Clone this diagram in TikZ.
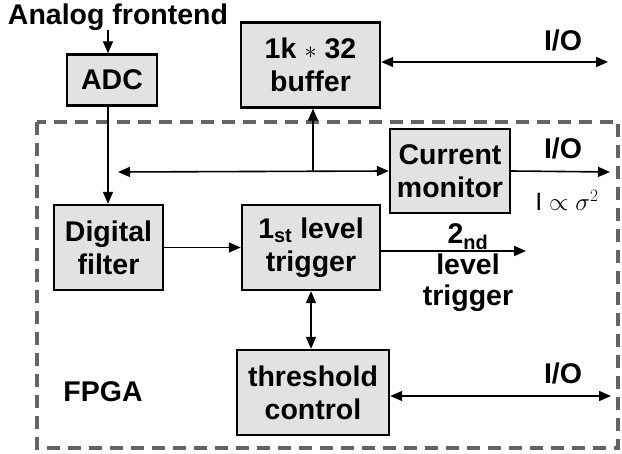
\documentclass[tikz,border=0pt]{standalone}
\usepackage{fontspec}
\setmainfont{Liberation Sans}
\usetikzlibrary{arrows.meta}
\definecolor{boxfill}{RGB}{226,226,226}
\definecolor{dashgray}{RGB}{100,100,100}
\begin{document}
\begin{tikzpicture}[x=1pt,y=-1pt,
  every node/.style={font=\fontsize{28.5}{33}\selectfont\bfseries},
  blk/.style={draw=black,line width=2.4pt,fill=boxfill,align=center,inner sep=0pt},
  conn/.style={line width=1.6pt,-{Triangle[length=12pt,width=10pt]}},
  dconn/.style={line width=1.6pt,{Triangle[length=12pt,width=10pt]}-{Triangle[length=12pt,width=10pt]}},
  lbl/.style={align=center,inner sep=0pt}]
\useasboundingbox (0,0) rectangle (622,454);
% FPGA dashed frame
\draw[dashgray,line width=4pt,dash pattern=on 13pt off 8pt] (36.5,122) rectangle (618,448);
% blocks
\node[blk,minimum width=90pt,minimum height=51pt] (adc) at (112,80) {ADC};
\node[blk,minimum width=139pt,minimum height=85pt] (buf) at (310.5,65) {1k {\mdseries$\ast$} 32\\buffer};
\node[blk,minimum width=120pt,minimum height=84pt] (cm) at (450,171) {Current\\monitor};
\node[blk,minimum width=109pt,minimum height=85pt] (df) at (108.5,247.5) {Digital\\filter};
\node[blk,minimum width=138pt,minimum height=85pt] (trig) at (311,247.5) {1\textsubscript{st} level\\trigger};
\node[blk,minimum width=152pt,minimum height=85pt] (thr) at (313,392.5) {threshold\\control};
% labels
\node[lbl] (afe) at (118,17) {Analog frontend};
\node[lbl] (fpga) at (103,392) {FPGA};
\node[lbl] (io1) at (563,40) {I/O};
\node[lbl] (io2) at (563,148) {I/O};
\node[lbl] (io3) at (563,373) {I/O};
\node[lbl,font=\fontsize{25}{30}\selectfont\mdseries] (prop) at (567,200) {I $\propto\sigma^2$};
\node[lbl,font=\fontsize{28.5}{31}\selectfont\bfseries] (sec) at (468,268) {2\textsubscript{nd}\\level\\trigger};
% coordinates
\coordinate (afeb) at (108,30);
\coordinate (busL) at (118,172);
\coordinate (busJ) at (313,172);
\coordinate (bufout) at (608,62);
\coordinate (cmout) at (610,172);
\coordinate (trout) at (526,251);
\coordinate (throut) at (611,396);
% connectors
\draw[conn] (afeb) -- (afeb |- adc.north);
\draw[conn] (adc.south -| afeb) -- (afeb |- df.north);
\draw[dconn] (busL) -- (cm.west);
\draw[conn] (busJ) -- (busJ |- buf.south);
\draw[dconn] (buf.east |- bufout) -- (bufout);
\draw[conn] (cm.east) -- (cmout);
\draw[conn] (df.east) -- (trig.west);
\draw[conn] (trig.east |- trout) -- (trout);
\draw[dconn] (trig.south) -- (thr.north -| trig.south);
\draw[dconn] (thr.east |- throut) -- (throut);
\end{tikzpicture}
\end{document}
